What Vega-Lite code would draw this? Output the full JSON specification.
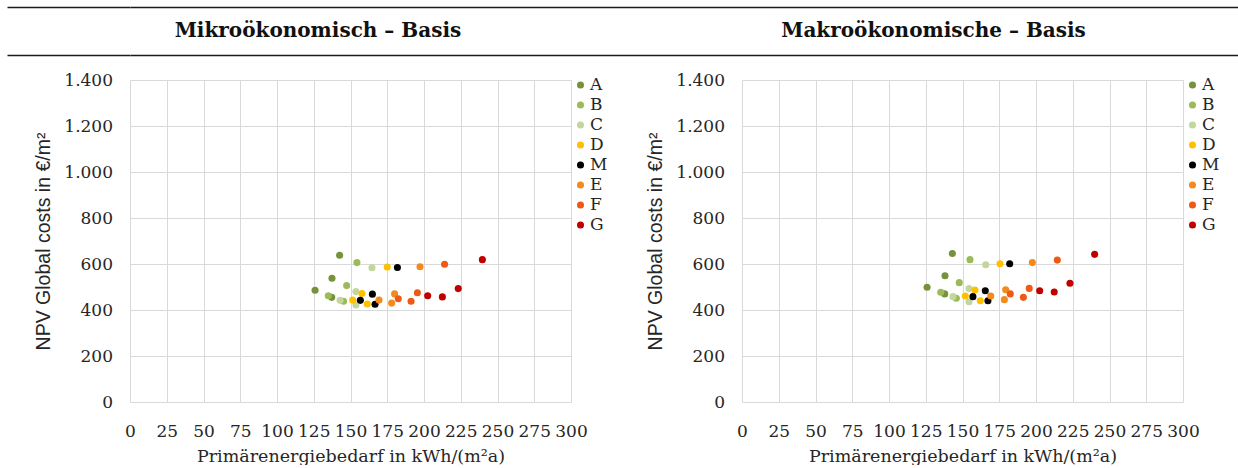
{
  "$schema": "https://vega.github.io/schema/vega-lite/v6.json",
  "padding": {"left": 6, "top": 6, "right": 0, "bottom": 0},
  "background": "#ffffff",
  "datasets": {
    "mikro": [
      {"k": "A", "x": 142.6, "y": 638}, {"k": "A", "x": 137.4, "y": 538}, {"k": "A", "x": 125.9, "y": 486}, {"k": "A", "x": 137.2, "y": 455},
      {"k": "B", "x": 154.4, "y": 606}, {"k": "B", "x": 147.4, "y": 506}, {"k": "B", "x": 145.3, "y": 438}, {"k": "B", "x": 134.9, "y": 462},
      {"k": "C", "x": 164.6, "y": 584}, {"k": "C", "x": 153.7, "y": 480}, {"k": "C", "x": 142.9, "y": 442}, {"k": "C", "x": 153.7, "y": 422},
      {"k": "D", "x": 175.0, "y": 587}, {"k": "D", "x": 157.8, "y": 472}, {"k": "D", "x": 151.5, "y": 443}, {"k": "D", "x": 161.4, "y": 426},
      {"k": "M", "x": 181.9, "y": 585}, {"k": "M", "x": 164.9, "y": 469}, {"k": "M", "x": 156.7, "y": 442}, {"k": "M", "x": 166.7, "y": 425},
      {"k": "E", "x": 197.3, "y": 588}, {"k": "E", "x": 180.0, "y": 470}, {"k": "E", "x": 169.4, "y": 443}, {"k": "E", "x": 178.0, "y": 430},
      {"k": "F", "x": 214.0, "y": 599}, {"k": "F", "x": 195.5, "y": 475}, {"k": "F", "x": 182.5, "y": 449}, {"k": "F", "x": 191.2, "y": 438},
      {"k": "G", "x": 239.7, "y": 619}, {"k": "G", "x": 223.3, "y": 493}, {"k": "G", "x": 202.5, "y": 462}, {"k": "G", "x": 212.5, "y": 457}
    ],
    "makro": [
      {"k": "A", "x": 143.1, "y": 646}, {"k": "A", "x": 138.1, "y": 549}, {"k": "A", "x": 125.9, "y": 499}, {"k": "A", "x": 137.9, "y": 470},
      {"k": "B", "x": 155.1, "y": 619}, {"k": "B", "x": 147.8, "y": 519}, {"k": "B", "x": 145.8, "y": 451}, {"k": "B", "x": 135.2, "y": 477},
      {"k": "C", "x": 165.8, "y": 597}, {"k": "C", "x": 154.4, "y": 493}, {"k": "C", "x": 143.5, "y": 458}, {"k": "C", "x": 154.4, "y": 436},
      {"k": "D", "x": 175.5, "y": 601}, {"k": "D", "x": 158.5, "y": 487}, {"k": "D", "x": 151.9, "y": 461}, {"k": "D", "x": 162.1, "y": 440},
      {"k": "M", "x": 182.1, "y": 601}, {"k": "M", "x": 165.5, "y": 484}, {"k": "M", "x": 157.1, "y": 458}, {"k": "M", "x": 167.3, "y": 440},
      {"k": "E", "x": 197.5, "y": 606}, {"k": "E", "x": 179.4, "y": 488}, {"k": "E", "x": 169.2, "y": 461}, {"k": "E", "x": 178.5, "y": 445},
      {"k": "F", "x": 214.5, "y": 617}, {"k": "F", "x": 195.4, "y": 494}, {"k": "F", "x": 182.5, "y": 470}, {"k": "F", "x": 191.4, "y": 455},
      {"k": "G", "x": 239.9, "y": 642}, {"k": "G", "x": 223.1, "y": 516}, {"k": "G", "x": 202.5, "y": 484}, {"k": "G", "x": 212.4, "y": 478}
    ]
  },
  "columns": 1,
  "align": "none",
  "spacing": 15,
  "concat": [
    {
      "width": 1109,
      "height": 48,
      "data": {"values": [{"p": "L", "t": "Mikroökonomisch – Basis"}, {"p": "R", "t": "Makroökonomische – Basis"}]},
      "mark": {"type": "text", "font": "DejaVu Serif", "fontWeight": "bold", "fontSize": 20, "baseline": "middle", "align": "center", "color": "#111111"},
      "encoding": {
        "x": {"field": "p", "type": "nominal", "sort": ["L", "R"], "scale": {"type": "point", "padding": 0.4008, "align": 0.381}, "axis": null},
        "y": {"datum": 0.5, "type": "quantitative", "scale": {"domain": [0, 1], "nice": false},
              "axis": {"values": [0, 1], "labels": false, "ticks": true, "tickSize": 123, "tickColor": "#1a1a1a", "tickWidth": 1.3, "domain": false, "title": null, "grid": true, "gridColor": "#1a1a1a", "gridWidth": 1.3}},
        "text": {"field": "t"}
      }
    },
    {
      "spacing": 37,
      "resolve": {"legend": {"color": "independent"}},
      "hconcat": [
        {
          "width": 441,
          "height": 322,
          "data": {"name": "mikro"},
          "mark": {"type": "circle", "size": 50, "opacity": 1},
          "encoding": {
            "x": {"field": "x", "type": "quantitative", "scale": {"domain": [0, 300], "nice": false},
                  "axis": {"values": [0, 25, 50, 75, 100, 125, 150, 175, 200, 225, 250, 275, 300], "title": "Primärenergiebedarf in kWh/(m²a)", "titleFontSize": 17.5, "labelPadding": 21, "titlePadding": 8, "labelOverlap": false, "labelFlush": false, "labelBound": false}},
            "y": {"field": "y", "type": "quantitative", "scale": {"domain": [0, 1400], "nice": false},
                  "axis": {"values": [0, 200, 400, 600, 800, 1000, 1200, 1400], "labelExpr": "replace(format(datum.value, ','), ',', '.')", "title": [" ", "NPV Global costs in €/m²"], "titleLineHeight": 25, "titleFont": "Liberation Sans", "titleFontSize": 19.5, "labelPadding": 17.5, "titlePadding": 10, "labelOverlap": false, "labelFlush": false}},
            "color": {"field": "k", "type": "nominal",
                      "scale": {"domain": ["A", "B", "C", "D", "M", "E", "F", "G"], "range": ["#76923C", "#9BBB59", "#C3D69B", "#FFC000", "#000000", "#F28A1E", "#EE5A14", "#C00000"]},
                      "legend": {"title": null, "orient": "right", "offset": 1, "padding": 0, "symbolType": "circle", "symbolSize": 50, "clipHeight": 10, "rowPadding": 3, "labelFont": "DejaVu Serif", "labelFontSize": 17, "labelColor": "#262626", "labelOffset": 1}}
          }
        },
        {
          "width": 441,
          "height": 322,
          "data": {"name": "makro"},
          "mark": {"type": "circle", "size": 50, "opacity": 1},
          "encoding": {
            "x": {"field": "x", "type": "quantitative", "scale": {"domain": [0, 300], "nice": false},
                  "axis": {"values": [0, 25, 50, 75, 100, 125, 150, 175, 200, 225, 250, 275, 300], "title": "Primärenergiebedarf in kWh/(m²a)", "titleFontSize": 17.5, "labelPadding": 21, "titlePadding": 8, "labelOverlap": false, "labelFlush": false, "labelBound": false}},
            "y": {"field": "y", "type": "quantitative", "scale": {"domain": [0, 1400], "nice": false},
                  "axis": {"values": [0, 200, 400, 600, 800, 1000, 1200, 1400], "labelExpr": "replace(format(datum.value, ','), ',', '.')", "title": "NPV Global costs in €/m²", "titleFont": "Liberation Sans", "titleFontSize": 19.5, "labelPadding": 17.5, "titlePadding": 10, "labelOverlap": false, "labelFlush": false}},
            "color": {"field": "k", "type": "nominal",
                      "scale": {"domain": ["A", "B", "C", "D", "M", "E", "F", "G"], "range": ["#76923C", "#9BBB59", "#C3D69B", "#FFC000", "#000000", "#F28A1E", "#EE5A14", "#C00000"]},
                      "legend": {"title": null, "orient": "right", "offset": 1, "padding": 0, "symbolType": "circle", "symbolSize": 50, "clipHeight": 10, "rowPadding": 3, "labelFont": "DejaVu Serif", "labelFontSize": 17, "labelColor": "#262626", "labelOffset": 1}}
          }
        }
      ]
    }
  ],
  "config": {
    "view": {"stroke": null},
    "axis": {
      "labelFont": "DejaVu Serif",
      "labelFontSize": 17,
      "labelColor": "#262626",
      "titleFont": "DejaVu Serif",
      "titleFontSize": 17,
      "titleFontWeight": "normal",
      "titleColor": "#262626",
      "grid": true,
      "gridColor": "#D9D9D9",
      "gridWidth": 1,
      "domain": false,
      "ticks": false
    }
  }
}
